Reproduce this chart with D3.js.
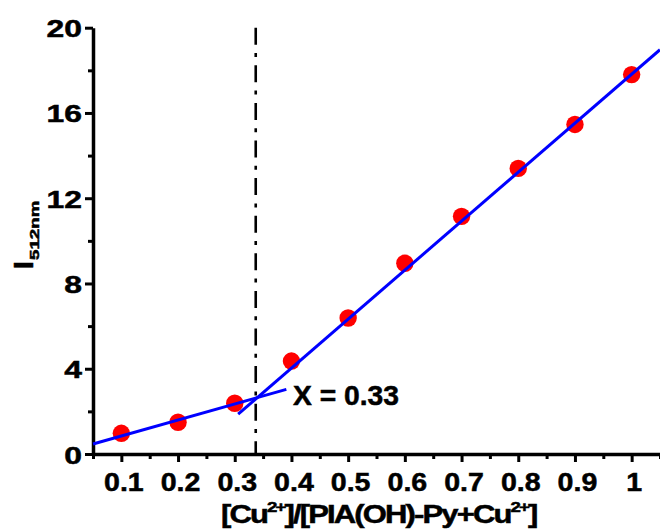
<!DOCTYPE html>
<html><head><meta charset="utf-8">
<script src="https://cdn.jsdelivr.net/npm/d3@7"></script>
<style>body{margin:0;background:#fff}svg{display:block}text{font-family:"Liberation Sans",Arial,sans-serif;font-weight:bold;stroke:#000;stroke-width:0.5px}</style>
</head><body><svg id="c" width="660" height="532"></svg>
<script>
const ratios = [0.1,0.2,0.3,0.4,0.5,0.6,0.7,0.8,0.9,1.0];
const intensity = [0.97,1.49,2.38,4.36,6.38,8.95,11.15,13.4,15.46,17.8];
const fitLow = [[0.05,0.47],[0.391,3.03]];
const fitHigh = [[0.306,1.87],[1.05,18.97]];
const crossX = 0.337;
const xTicks = [0.1,0.2,0.3,0.4,0.5,0.6,0.7,0.8,0.9,1];
const xTickLabels = ["0.1","0.2","0.3","0.4","0.5","0.6","0.7","0.8","0.9","1"];
const xMinor = [0.05,0.15,0.25,0.35,0.45,0.55,0.65,0.75,0.85,0.95,1.05];
const yTicks = [0,4,8,12,16,20];
const yMinor = [2,6,10,14,18];
const annotation = "X = 0.33";

const svg = d3.select("#c");
const x = d3.scaleLinear().domain([0.05,1.05]).range([93,660]);
const y = d3.scaleLinear().domain([0,20]).range([454,27.7]);

// minor ticks
svg.append("g").attr("transform",`translate(0,${y(0)})`)
  .call(d3.axisBottom(x).tickValues(xMinor).tickSize(5).tickFormat(""))
  .call(g=>{g.select(".domain").remove();g.selectAll("line").attr("stroke","#000").attr("stroke-width",3);});
svg.append("g").attr("transform",`translate(${x(0.05)},0)`)
  .call(d3.axisLeft(y).tickValues(yMinor).tickSize(5).tickFormat(""))
  .call(g=>{g.select(".domain").remove();g.selectAll("line").attr("stroke","#000").attr("stroke-width",3);});

// major axes
const gx = svg.append("g").attr("transform",`translate(0,${y(0)})`)
  .call(d3.axisBottom(x).tickValues(xTicks).tickSize(8).tickSizeOuter(0).tickFormat((d,i)=>xTickLabels[i]));
gx.select(".domain").attr("stroke","#000").attr("stroke-width",3.5);
gx.selectAll("line").attr("stroke","#000").attr("stroke-width",3);
gx.selectAll("text").attr("fill","#000").attr("font-size",25.5).attr("y",0).attr("dy",0)
  .attr("text-anchor","middle").attr("transform","translate(2,37) scale(1.12,1)");

const gy = svg.append("g").attr("transform",`translate(${x(0.05)},0)`)
  .call(d3.axisLeft(y).tickValues(yTicks).tickSize(8).tickSizeOuter(0));
gy.select(".domain").attr("stroke","#000").attr("stroke-width",3.5);
gy.selectAll("line").attr("stroke","#000").attr("stroke-width",3);
gy.selectAll("text").attr("fill","#000").attr("font-size",24.5).attr("x",0).attr("dy",0)
  .attr("text-anchor","end").attr("transform","translate(-11,9) scale(1.3,1)");

// dash-dot vertical line
svg.append("line").attr("x1",x(crossX)).attr("x2",x(crossX)).attr("y1",y(20)).attr("y2",y(0))
  .attr("stroke","#000").attr("stroke-width",2.6).attr("stroke-dasharray","17,8.3,4,8.3");

// points
svg.append("g").selectAll("circle").data(ratios).join("circle")
  .attr("cx",d=>x(d)).attr("cy",(d,i)=>y(intensity[i])).attr("r",8.7).attr("fill","#ff0000");

// fit lines
const line = d3.line().x(d=>x(d[0])).y(d=>y(d[1]));
[fitLow,fitHigh].forEach(f=>svg.append("path").attr("d",line(f)).attr("fill","none").attr("stroke","#0000ff").attr("stroke-width",3));

// annotation
svg.append("text").attr("x",293).attr("y",405).attr("font-size",28).attr("fill","#000")
  .attr("textLength",106).attr("lengthAdjust","spacingAndGlyphs").text(annotation);

// y label
svg.append("text").attr("transform","translate(33,269) rotate(-90)").attr("fill","#000")
  .attr("font-size",28).text("I");
svg.append("text").attr("transform","translate(39,260) rotate(-90) scale(1.5,1)").attr("fill","#000")
  .attr("font-size",12.5).attr("stroke-width",0.3).text("512nm");

// x label
const xl = svg.append("text").attr("transform","translate(221,523) scale(1.24,1)").attr("fill","#000").attr("font-size",25)
  .attr("letter-spacing",-1.5);
xl.append("tspan").text("[Cu");
xl.append("tspan").attr("font-size",15).attr("dy",-11).text("2+");
xl.append("tspan").attr("dy",11).text("]/[PIA(OH)-Py+Cu");
xl.append("tspan").attr("font-size",15).attr("dy",-11).text("2+");
xl.append("tspan").attr("dy",11).text("]");
</script></body></html>
